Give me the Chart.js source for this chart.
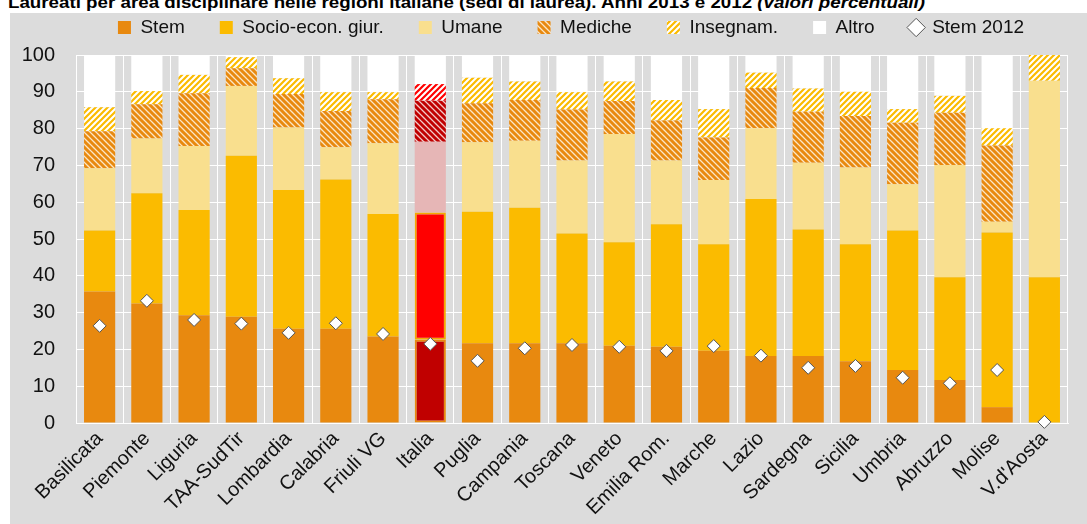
<!DOCTYPE html>
<html><head><meta charset="utf-8">
<script src="https://cdn.jsdelivr.net/npm/chart.js@4.4.1/dist/chart.umd.min.js"></script>
<style>
html,body{margin:0;padding:0;background:#fff;width:1087px;height:524px;overflow:hidden;position:relative}
#title{position:absolute;left:8px;top:-6px;font:bold 17px 'Liberation Sans',Arial,sans-serif;white-space:nowrap;color:#000;line-height:17px;transform-origin:0 0}
#title i{font-style:italic}
#wrap{position:absolute;left:10px;top:13px;width:1077px;height:511px;background:#dcdcdc}
canvas{display:block}
</style></head><body>
<div id="title">Laureati per area disciplinare nelle regioni italiane (sedi di laurea). Anni 2013 e 2012 <i>(valori percentuali)</i></div>
<div id="wrap"><canvas id="c" width="1077" height="511"></canvas></div>
<script>
const categories = ['Basilicata','Piemonte','Liguria','TAA-SudTir','Lombardia','Calabria','Friuli VG','Italia','Puglia','Campania','Toscana','Veneto','Emilia Rom.','Marche','Lazio','Sardegna','Sicilia','Umbria','Abruzzo','Molise',"V.d'Aosta"];
const stem      = [35.7,32.5,29.3,28.9,25.6,25.6,23.5,22.6,21.7,21.7,21.7,21.0,20.7,19.6,18.2,18.2,16.8,14.4,11.7, 4.3, 0.0];
const socioEcon = [16.6,29.9,28.6,43.7,37.7,40.6,33.3,34.6,35.7,36.8,29.8,28.1,33.3,29.0,42.7,34.4,31.8,37.9,27.9,47.5,39.6];
const umane     = [16.9,14.9,17.4,19.0,17.0, 8.7,19.2,19.2,18.9,18.2,19.8,29.4,17.3,17.4,19.2,18.1,20.8,12.6,30.5, 2.9,53.4];
const mediche   = [10.1, 9.3,14.3, 4.8, 9.1, 9.9,12.0,11.2,10.6,11.1,13.9, 9.0,10.9,11.6,10.9,13.9,14.0,16.7,14.2,20.7, 0.0];
const insegnam  = [ 6.5, 3.6, 5.0, 3.0, 4.3, 5.1, 1.9, 4.5, 6.9, 5.0, 4.7, 5.3, 5.6, 7.7, 4.2, 6.3, 6.6, 3.7, 4.6, 4.7, 7.0];
const altro     = [14.2, 9.8, 5.4, 0.6, 6.3,10.1,10.1, 7.9, 6.2, 7.2,10.1, 7.2,12.2,14.7, 4.8, 9.1,10.0,14.7,11.1,19.9, 0.0];
const stem2012  = [26.4,33.2,28.0,27.0,24.5,27.1,24.2,21.5,16.9,20.3,21.2,20.7,19.6,20.9,18.3,15.0,15.5,12.3,10.8,14.4, 0.3];
const yTicks    = [0,10,20,30,40,50,60,70,80,90,100];
const seriesNames = ['Stem','Socio-econ. giur.','Umane','Mediche','Insegnam.','Altro','Stem 2012'];
const highlight = 'Italia';

// fit the (cut-off) title to the reference width
(function(){
  const t = document.getElementById('title');
  const w = t.getBoundingClientRect().width;
  t.style.transform = 'scaleX(' + (917 / w) + ')';
})();

const FONT = "'Liberation Sans',Arial,sans-serif";
Chart.defaults.font.family = FONT;
Chart.defaults.font.size = 20;
Chart.defaults.color = '#111';

function hatch(fg, bg, dir, lw){
  const s = 6, c = document.createElement('canvas');
  c.width = c.height = s;
  const g = c.getContext('2d');
  g.fillStyle = bg; g.fillRect(0,0,s,s);
  g.strokeStyle = fg; g.lineWidth = lw; g.beginPath();
  if (dir === '/') {
    g.moveTo(-1, s+1); g.lineTo(s+1, -1);
    g.moveTo(-1, 1); g.lineTo(1, -1);
    g.moveTo(s-1, s+1); g.lineTo(s+1, s-1);
  } else {
    g.moveTo(-1, -1); g.lineTo(s+1, s+1);
    g.moveTo(-1, s-1); g.lineTo(1, s+1);
    g.moveTo(s-1, -1); g.lineTo(s+1, 1);
  }
  g.stroke();
  return g.createPattern(c, 'repeat');
}

const ctx = document.getElementById('c').getContext('2d');
const isHi = categories.map(c => c === highlight);
const pick = (normal, hi) => isHi.map(h => h ? hi : normal);

const medPat = hatch('#e8890f', '#fbe6c6', '\\', 3);
const insPat = hatch('#fbbb00', '#ffffff', '/', 2.2);
const medPatHi = hatch('#c00000', '#f2c8c8', '\\', 3);
const insPatHi = hatch('#ff0000', '#ffffff', '/', 2.2);

const barCommon = {type:'bar', barPercentage:0.66, categoryPercentage:1, stack:'s', borderSkipped:false};

const chart = new Chart(ctx, {
  data: {
    labels: categories,
    datasets: [
      Object.assign({}, barCommon, {label: seriesNames[0], data: stem, legendColor:'#e8890f',
        backgroundColor: pick('#e8890f', '#c00000'), borderColor: pick('#e8890f', '#e8890f'), borderWidth: pick(0, 2)}),
      Object.assign({}, barCommon, {label: seriesNames[1], data: socioEcon, legendColor:'#fbbb00',
        backgroundColor: pick('#fbbb00', '#ff0000'), borderColor: pick('#fbbb00', '#f5a800'), borderWidth: pick(0, 2)}),
      Object.assign({}, barCommon, {label: seriesNames[2], data: umane, legendColor:'#f9df8e',
        backgroundColor: pick('#f9df8e', '#e6b6b6'), borderWidth: 0}),
      Object.assign({}, barCommon, {label: seriesNames[3], data: mediche, legendColor: medPat,
        backgroundColor: pick(medPat, medPatHi), borderWidth: 0}),
      Object.assign({}, barCommon, {label: seriesNames[4], data: insegnam, legendColor: insPat,
        backgroundColor: pick(insPat, insPatHi), borderWidth: 0}),
      Object.assign({}, barCommon, {label: seriesNames[5], data: altro, legendColor:'#ffffff',
        backgroundColor: '#ffffff', borderWidth: 0}),
      {type:'line', label: seriesNames[6], data: stem2012, stack:'pts', order:-1, showLine:false, clip:false,
        pointStyle:'rectRot', pointRadius:6.5, pointHoverRadius:6.5, pointBackgroundColor:'#ffffff',
        pointBorderColor:'#555555', pointBorderWidth:1, borderColor:'#555555', backgroundColor:'#ffffff'}
    ]
  },
  options: {
    responsive:false, animation:false, devicePixelRatio:1,
    layout:{padding:{left:0, right:19, top:0, bottom:0}},
    scales: {
      x: {stacked:true, offset:true,
        grid:{color:'#ffffff', lineWidth:1, drawTicks:false, offset:true},
        border:{color:'#ffffff'},
        ticks:{autoSkip:false, minRotation:45, maxRotation:45, padding:4, color:'#111', font:{size:20}},
        afterFit(s){ s.height = 101; }
      },
      y: {stacked:true, min:0, max:100,
        grid:{color:'#ffffff', lineWidth:1, drawTicks:false},
        border:{color:'#ffffff'},
        afterBuildTicks(s){ s.ticks = yTicks.map(v => ({value:v})); },
        ticks:{padding:21, color:'#111', font:{size:20}},
        afterFit(s){ s.width = 66; }
      }
    },
    plugins: {
      tooltip:{enabled:false},
      legend: {
        position:'top',
        labels: {
          usePointStyle:true, boxWidth:13, boxHeight:13, padding:35, color:'#111', font:{size:19},
          generateLabels(chart){
            const items = Chart.defaults.plugins.legend.labels.generateLabels(chart);
            items.sort((a,b) => a.datasetIndex - b.datasetIndex);
            items.forEach(it => {
              const ds = chart.data.datasets[it.datasetIndex];
              if (ds.type === 'line') {
                it.pointStyle = 'rectRot'; it.fillStyle = '#ffffff'; it.strokeStyle = '#555555'; it.lineWidth = 1;
              } else {
                it.pointStyle = 'rect'; it.fillStyle = ds.legendColor; it.strokeStyle = 'rgba(0,0,0,0)'; it.lineWidth = 0;
              }
            });
            return items;
          }
        }
      }
    }
  },
  plugins: [{
    id:'legendTune',
    beforeInit(chart){
      const lg = chart.legend;
      const fit = lg.fit;
      lg.fit = function(){ fit.call(this); this.height = 42; };
      const inner = lg._draw;
      lg._draw = function(){
        const c = this.ctx; c.save(); c.translate(32, -30); inner.call(this); c.restore();
      };
    }
  }]
});
</script>
</body></html>
